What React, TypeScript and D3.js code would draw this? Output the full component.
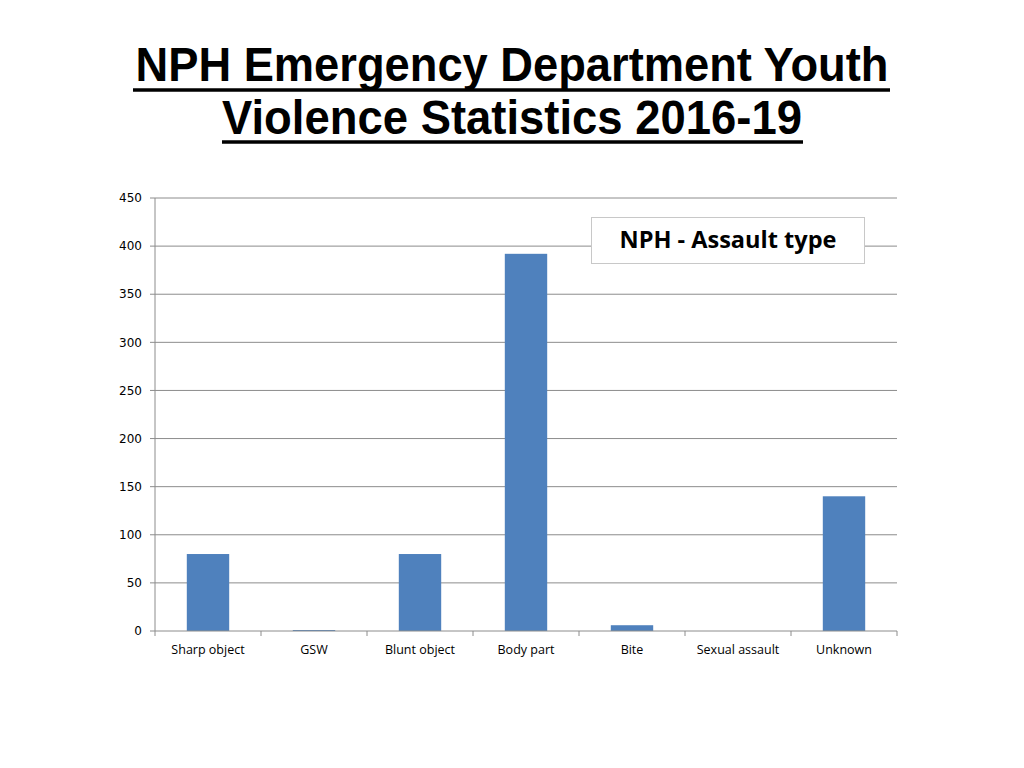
import React from 'react';
import * as d3 from 'd3';

const categories = ['Sharp object', 'GSW', 'Blunt object', 'Body part', 'Bite', 'Sexual assault', 'Unknown'];
const counts = [80, 1, 80, 392, 6, 0, 140];
const yTicks = [0, 50, 100, 150, 200, 250, 300, 350, 400, 450];
const titleLines = ['NPH Emergency Department Youth', 'Violence Statistics 2016-19'];
const legendLabel = 'NPH - Assault type';

export default function App() {
  const width = 1024;
  const height = 768;
  const left = 155;
  const right = 897;
  const top = 198;
  const bottom = 631;

  const x = d3.scaleBand<string>().domain(categories).range([left, right]).padding(0);
  const y = d3.scaleLinear().domain([0, 450]).range([bottom, top]);
  const barW = x.bandwidth() * 0.4;
  const bandEdges = categories.map((c) => x(c) as number).concat([right]);

  return (
    <div style={{ position: 'absolute', left: 0, top: 0, width, height, background: '#fff' }}>
      <svg width={width} height={height} style={{ display: 'block' }}>
        <rect width={width} height={height} fill="#fff" />
        {/* title */}
        <g fontFamily="'Liberation Sans', Arial, sans-serif" fontWeight="bold" fill="#000">
          <text x={512} y={81} textAnchor="middle" fontSize={49} textLength={753} lengthAdjust="spacingAndGlyphs">
            {titleLines[0]}
          </text>
          <line x1={133} x2={890} y1={90} y2={90} stroke="#000" strokeWidth={3.5} />
          <text x={512} y={134} textAnchor="middle" fontSize={49} textLength={580} lengthAdjust="spacingAndGlyphs">
            {titleLines[1]}
          </text>
          <line x1={222} x2={803} y1={142} y2={142} stroke="#000" strokeWidth={3.5} />
        </g>

        {/* grid + y ticks */}
        {yTicks.map((t) => (
          <g key={t}>
            {t > 0 && <line x1={left} x2={right} y1={y(t)} y2={y(t)} stroke="#8c8c8c" strokeWidth={1} />}
            <line x1={left - 5} x2={left} y1={y(t)} y2={y(t)} stroke="#8c8c8c" strokeWidth={1} />
            <text x={142} y={y(t)} dy="0.35em" textAnchor="end" fontSize={12} fontFamily="'DejaVu Sans', Verdana, sans-serif" fill="#000">
              {t}
            </text>
          </g>
        ))}
        <line x1={left} x2={left} y1={top} y2={bottom} stroke="#8c8c8c" strokeWidth={1} />

        {/* bars */}
        {categories.map((c, i) => (
          <rect
            key={c}
            x={(x(c) as number) + (x.bandwidth() - barW) / 2}
            y={y(counts[i])}
            width={barW}
            height={bottom - y(counts[i])}
            fill="#4f81bd"
          />
        ))}

        {/* x axis */}
        <line x1={left} x2={right} y1={bottom} y2={bottom} stroke="#8c8c8c" strokeWidth={1} />
        {bandEdges.map((e, i) => (
          <line key={i} x1={e} x2={e} y1={bottom} y2={bottom + 5} stroke="#8c8c8c" strokeWidth={1} />
        ))}
        {categories.map((c) => (
          <text
            key={c}
            x={(x(c) as number) + x.bandwidth() / 2}
            y={654}
            textAnchor="middle"
            fontSize={12.5}
            fontFamily="'Open Sans', Calibri, sans-serif"
            fill="#000"
          >
            {c}
          </text>
        ))}

        {/* legend / chart title box */}
        <rect x={591.5} y={217.5} width={273} height={46} fill="#fff" stroke="#c8c8c8" strokeWidth={1} />
        <text x={728} y={248} textAnchor="middle" fontSize={23} fontWeight="bold" fontFamily="'Open Sans', Calibri, sans-serif" fill="#000" textLength={217} lengthAdjust="spacingAndGlyphs">
          {legendLabel}
        </text>
      </svg>
    </div>
  );
}
